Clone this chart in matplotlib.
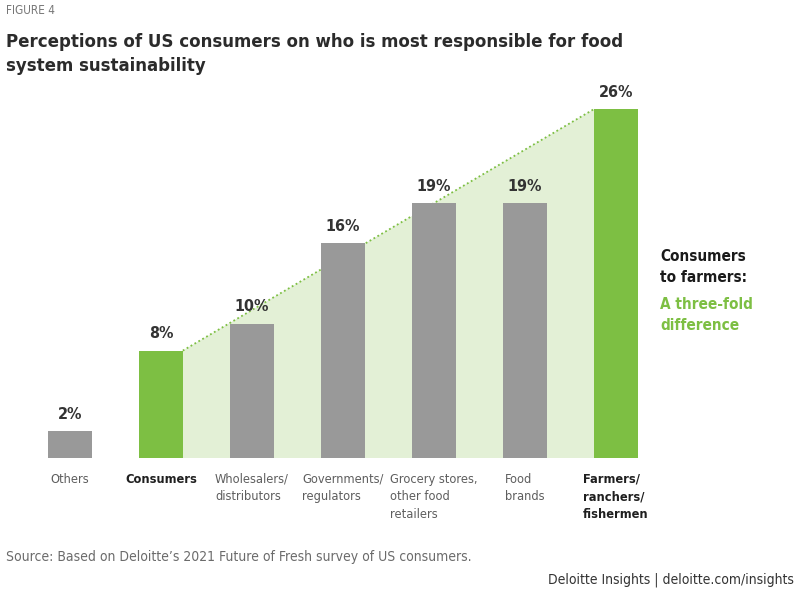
import matplotlib
matplotlib.use("Agg")
import matplotlib.pyplot as plt
from matplotlib.patches import Polygon

# condensed face, closest to the original's narrow typeface
plt.rcParams['font.family'] = ['DejaVu Sans']
plt.rcParams['font.stretch'] = 'condensed'

categories = ["Others", "Consumers", "Wholesalers/\ndistributors", "Governments/\nregulators",
              "Grocery stores,\nother food\nretailers", "Food\nbrands", "Farmers/\nranchers/\nfishermen"]
values = [2, 8, 10, 16, 19, 19, 26]
highlight = [False, True, False, False, False, False, True]

GREEN = "#7dbf43"
LIGHT_GREEN = "#e3f0d6"
GRAY = "#999999"
DARK = "#1f1f1f"
LABEL_GRAY = "#5e5e5e"

fig = plt.figure(figsize=(8, 5.9), dpi=100)
ax = fig.add_axes([24.5 / 800, 132 / 590, 637 / 800, 402.7 / 590])

x = list(range(len(values)))
w = 0.48
colors = [GREEN if h else GRAY for h in highlight]

# shaded wedge between consumers and farmers bars
i0, i1 = 1, 6
poly = Polygon([(x[i0] + w / 2, 0), (x[i0] + w / 2, values[i0]),
                (x[i1] - w / 2, values[i1]), (x[i1] - w / 2, 0)],
               closed=True, facecolor=LIGHT_GREEN, edgecolor="none", zorder=1)
ax.add_patch(poly)
ax.plot([x[i0] + w / 2, x[i1] - w / 2], [values[i0], values[i1]],
        linestyle=(0, (1, 1.5)), color=GREEN, linewidth=1.3, zorder=2)

ax.bar(x, values, width=w, color=colors, zorder=3)

for xi, v in zip(x, values):
    ax.text(xi, v + 0.7, f"{v}%", ha="center", va="bottom", fontsize=11.5,
            fontweight="bold", color="#333333", zorder=4)

for xi, lab, h in zip(x, categories, highlight):
    ax.text(xi, -1.1, lab, ha="center", va="top", multialignment="left",
            fontsize=9.2, fontweight="bold" if h else "normal",
            color=DARK if h else LABEL_GRAY, linespacing=1.45)

ax.set_xlim(-0.5, 6.5)
ax.set_ylim(0, 30)
ax.axis("off")

fig.text(660 / 800, 1 - 267 / 590, "Consumers\nto farmers:", ha="left", va="center",
         fontsize=11, fontweight="bold", color="#1a1a1a", linespacing=1.5)
fig.text(660 / 800, 1 - 315 / 590, "A three-fold\ndifference", ha="left", va="center",
         fontsize=11, fontweight="bold", color=GREEN, linespacing=1.5)

fig.text(6 / 800, 1 - 11 / 590, "FIGURE 4", ha="left", va="center", fontsize=8.5, color="#777777")
fig.text(6 / 800, 1 - 54 / 590, "Perceptions of US consumers on who is most responsible for food\nsystem sustainability",
         ha="left", va="center", fontsize=13.3, fontweight="bold", color="#2b2b2b", linespacing=1.4)

fig.text(6 / 800, 1 - 557 / 590, "Source: Based on Deloitte\u2019s 2021 Future of Fresh survey of US consumers.",
         ha="left", va="center", fontsize=10, color="#6b6b6b")
fig.text(794 / 800, 1 - 580 / 590, "Deloitte Insights | deloitte.com/insights",
         ha="right", va="center", fontsize=10, color="#333333")

fig.savefig("out.png", dpi=100, facecolor="white")
